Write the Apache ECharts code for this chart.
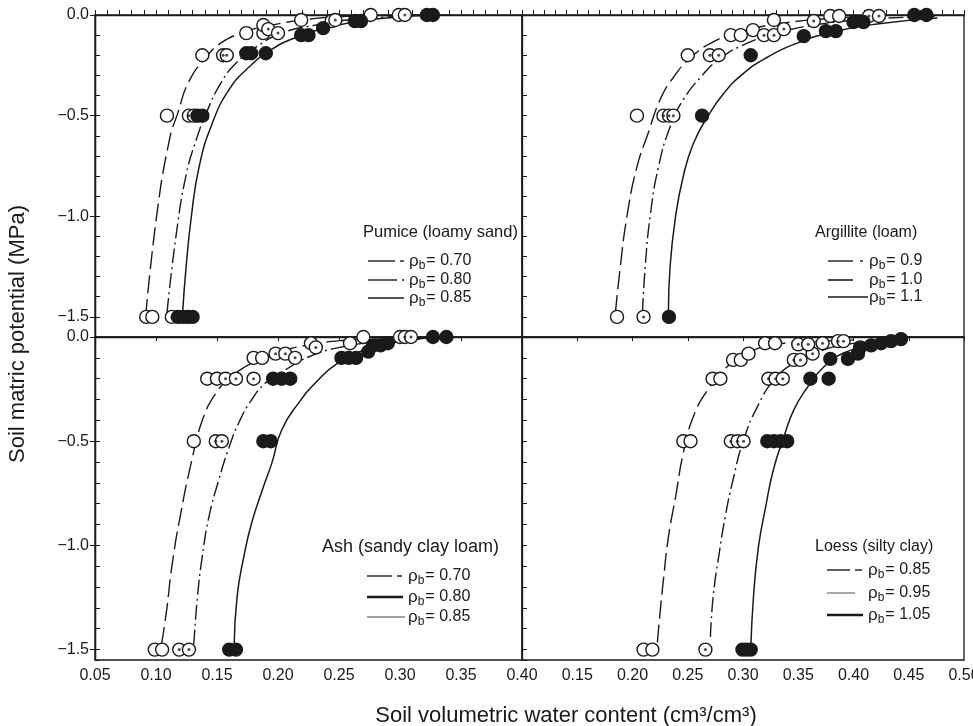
<!DOCTYPE html>
<html>
<head>
<meta charset="utf-8">
<title>Soil water retention</title>
<script src="https://cdn.jsdelivr.net/npm/echarts@6/dist/echarts.min.js"></script>
<style>
    html, body { margin: 0; padding: 0; background: #fff; }
    #container1 { width: 973px; height: 726px; }
</style>
</head>
<body>
<div id="container1"></div>
<script>
// values: [water content cm3/cm3, matric potential MPa]
var panelTitles = ['Pumice (loamy sand)', 'Argillite (loam)', 'Ash (sandy clay loam)', 'Loess (silty clay)'];
var densityLabels = [['0.70', '0.80', '0.85'], ['0.9', '1.0', '1.1'], ['0.70', '0.80', '0.85'], ['0.85', '0.95', '1.05']];

// pumice
var pumiceObs1 = [[0.092,-1.5],[0.097,-1.5],[0.109,-0.5],[0.138,-0.2],[0.174,-0.09],[0.188,-0.09],[0.188,-0.05],[0.219,-0.025],[0.244,-0.03],[0.276,0],[0.299,0]];
var pumiceObs2 = [[0.113,-1.5],[0.127,-0.5],[0.131,-0.5],[0.155,-0.2],[0.158,-0.2],[0.192,-0.07],[0.200,-0.09],[0.247,-0.025],[0.304,0]];
var pumiceObs3 = [[0.118,-1.5],[0.122,-1.5],[0.126,-1.5],[0.130,-1.5],[0.134,-0.5],[0.138,-0.5],[0.174,-0.19],[0.178,-0.19],[0.190,-0.19],[0.219,-0.1],[0.225,-0.1],[0.237,-0.065],[0.263,-0.03],[0.268,-0.03],[0.322,0],[0.327,0]];
var pumiceFit1 = [[0.0915,-1.5],[0.1005,-1.0],[0.111,-0.62],[0.1177,-0.49],[0.127,-0.33],[0.141,-0.21],[0.153,-0.14],[0.170,-0.09],[0.195,-0.05],[0.231,-0.017],[0.271,-0.005],[0.33,0]];
var pumiceFit2 = [[0.109,-1.48],[0.1167,-1.085],[0.125,-0.786],[0.133,-0.62],[0.141,-0.49],[0.153,-0.34],[0.1655,-0.24],[0.182,-0.16],[0.203,-0.09],[0.231,-0.05],[0.271,-0.017],[0.33,0]];
var pumiceFit3 = [[0.1217,-1.49],[0.1247,-1.25],[0.129,-1.0],[0.1355,-0.75],[0.146,-0.54],[0.160,-0.37],[0.176,-0.26],[0.195,-0.17],[0.217,-0.107],[0.244,-0.058],[0.284,-0.017],[0.34,0]];

// argillite
var argilliteObs1 = [[0.186,-1.5],[0.204,-0.5],[0.250,-0.2],[0.289,-0.1],[0.298,-0.1],[0.309,-0.075],[0.328,-0.025],[0.379,-0.005],[0.387,-0.005]];
var argilliteObs2 = [[0.210,-1.5],[0.228,-0.5],[0.233,-0.5],[0.237,-0.5],[0.270,-0.2],[0.278,-0.2],[0.319,-0.1],[0.328,-0.1],[0.337,-0.07],[0.364,-0.03],[0.414,-0.005],[0.423,-0.005]];
var argilliteObs3 = [[0.233,-1.5],[0.263,-0.5],[0.307,-0.2],[0.355,-0.105],[0.375,-0.08],[0.384,-0.08],[0.400,-0.035],[0.409,-0.035],[0.455,0],[0.466,0]];
var argilliteFit1 = [[0.1845,-1.48],[0.189,-1.25],[0.195,-1.0],[0.204,-0.755],[0.214,-0.59],[0.225,-0.42],[0.237,-0.31],[0.252,-0.215],[0.273,-0.133],[0.298,-0.083],[0.334,-0.042],[0.386,-0.015],[0.431,-0.005]];
var argilliteFit2 = [[0.209,-1.48],[0.2115,-1.25],[0.216,-1.0],[0.2235,-0.755],[0.234,-0.556],[0.246,-0.42],[0.2615,-0.31],[0.2795,-0.215],[0.304,-0.14],[0.331,-0.09],[0.364,-0.05],[0.4155,-0.02],[0.476,-0.008]];
var argilliteFit3 = [[0.2325,-1.48],[0.234,-1.25],[0.239,-1.0],[0.246,-0.80],[0.255,-0.64],[0.268,-0.505],[0.2825,-0.39],[0.3005,-0.29],[0.322,-0.21],[0.349,-0.14],[0.382,-0.083],[0.425,-0.042],[0.476,-0.015]];

// ash
var ashObs1 = [[0.099,-1.5],[0.105,-1.5],[0.131,-0.5],[0.142,-0.2],[0.150,-0.2],[0.180,-0.1],[0.187,-0.1],[0.227,-0.03],[0.259,-0.03],[0.270,0],[0.300,0]];
var ashObs2 = [[0.119,-1.5],[0.127,-1.5],[0.149,-0.5],[0.154,-0.5],[0.157,-0.2],[0.1655,-0.2],[0.180,-0.2],[0.198,-0.08],[0.206,-0.08],[0.214,-0.1],[0.231,-0.05],[0.304,0],[0.309,0]];
var ashObs3 = [[0.160,-1.5],[0.1655,-1.5],[0.188,-0.5],[0.194,-0.5],[0.196,-0.2],[0.203,-0.2],[0.210,-0.2],[0.252,-0.1],[0.258,-0.1],[0.264,-0.1],[0.274,-0.07],[0.278,-0.04],[0.284,-0.04],[0.290,-0.03],[0.327,0],[0.338,0]];
var ashFit1 = [[0.1045,-1.476],[0.1085,-1.32],[0.1135,-1.08],[0.1205,-0.84],[0.129,-0.60],[0.138,-0.40],[0.149,-0.27],[0.162,-0.19],[0.1785,-0.125],[0.198,-0.077],[0.225,-0.038],[0.2575,-0.014],[0.298,0]];
var ashFit2 = [[0.131,-1.476],[0.134,-1.245],[0.138,-1.05],[0.1435,-0.86],[0.1515,-0.685],[0.160,-0.527],[0.168,-0.41],[0.1785,-0.30],[0.190,-0.22],[0.206,-0.158],[0.225,-0.096],[0.252,-0.048],[0.284,-0.024],[0.325,-0.005]];
var ashFit3 = [[0.164,-1.485],[0.1665,-1.245],[0.172,-1.054],[0.1785,-0.89],[0.188,-0.72],[0.195,-0.604],[0.203,-0.446],[0.217,-0.316],[0.233,-0.206],[0.249,-0.125],[0.271,-0.062],[0.298,-0.024],[0.330,0]];

// loess
var loessObs1 = [[0.210,-1.5],[0.218,-1.5],[0.246,-0.5],[0.2525,-0.5],[0.2725,-0.2],[0.2795,-0.2],[0.291,-0.11],[0.298,-0.11],[0.305,-0.08],[0.320,-0.03],[0.329,-0.03]];
var loessObs2 = [[0.266,-1.5],[0.289,-0.5],[0.295,-0.5],[0.3005,-0.5],[0.323,-0.2],[0.3295,-0.2],[0.336,-0.2],[0.346,-0.11],[0.352,-0.11],[0.363,-0.08],[0.350,-0.035],[0.359,-0.035],[0.372,-0.03],[0.386,-0.02],[0.391,-0.02]];
var loessObs3 = [[0.2995,-1.5],[0.303,-1.5],[0.307,-1.5],[0.322,-0.5],[0.328,-0.5],[0.334,-0.5],[0.340,-0.5],[0.361,-0.2],[0.3775,-0.2],[0.379,-0.105],[0.395,-0.105],[0.404,-0.08],[0.406,-0.05],[0.416,-0.04],[0.425,-0.03],[0.434,-0.02],[0.443,-0.01]];
var loessFit1 = [[0.2225,-1.466],[0.225,-1.32],[0.228,-1.165],[0.2325,-0.96],[0.239,-0.767],[0.246,-0.556],[0.255,-0.383],[0.268,-0.254],[0.2825,-0.158],[0.304,-0.077],[0.328,-0.038],[0.355,-0.024],[0.400,-0.014]];
var loessFit2 = [[0.2705,-1.44],[0.273,-1.245],[0.278,-1.054],[0.284,-0.86],[0.291,-0.685],[0.3005,-0.494],[0.313,-0.335],[0.328,-0.206],[0.346,-0.125],[0.3675,-0.072],[0.391,-0.038],[0.431,-0.014]];
var loessFit3 = [[0.307,-1.5],[0.3095,-1.245],[0.314,-1.006],[0.3205,-0.815],[0.3275,-0.637],[0.337,-0.479],[0.346,-0.35],[0.3585,-0.24],[0.373,-0.144],[0.391,-0.077],[0.4155,-0.038],[0.4455,-0.014]];

var observed = [
    [pumiceObs1, pumiceObs2, pumiceObs3],
    [argilliteObs1, argilliteObs2, argilliteObs3],
    [ashObs1, ashObs2, ashObs3],
    [loessObs1, loessObs2, loessObs3]
];
var fitted = [
    [pumiceFit1, pumiceFit2, pumiceFit3],
    [argilliteFit1, argilliteFit2, argilliteFit3],
    [ashFit1, ashFit2, ashFit3],
    [loessFit1, loessFit2, loessFit3]
];

var INK = '#1a1a1a';
var FONT = '"Liberation Sans", Arial, Helvetica, sans-serif';

var chart = () => {
    // potential is plotted as suction on an inverted axis, so 0 sits on top
    var toPlot = pts => pts.map(p => [p[0], -p[1]]);
    var fitLine = [
        { type: [18, 6], width: 1.4 },
        { type: [15, 4, 2, 4], width: 1.4 },
        { type: 'solid', width: 1.5 }
    ];

    var buildSeries = () => {
        var out = [];
        for (var g = 0; g < 4; g++) {
            for (var k = 0; k < 3; k++) {
                out.push({
                    type: 'line', xAxisIndex: g, yAxisIndex: g,
                    data: toPlot(fitted[g][k]),
                    smooth: 0.5, showSymbol: false, symbol: 'none',
                    lineStyle: { color: INK, width: fitLine[k].width, type: fitLine[k].type },
                    z: 2, silent: true
                });
                out.push({
                    type: 'scatter', xAxisIndex: g, yAxisIndex: g,
                    data: toPlot(observed[g][k]),
                    symbol: 'circle', symbolSize: 13,
                    itemStyle: { color: k == 2 ? INK : '#fff', borderColor: INK, borderWidth: 1.4, opacity: 1 },
                    z: 3, silent: true
                });
                if (k == 1) {
                    // the centre dot of the middle density
                    out.push({
                        type: 'scatter', xAxisIndex: g, yAxisIndex: g,
                        data: toPlot(observed[g][k]),
                        symbol: 'circle', symbolSize: 3,
                        itemStyle: { color: INK },
                        z: 4, silent: true
                    });
                }
            }
        }
        return out;
    };

    var grids = [
        { left: 95, top: 15, width: 427, height: 322 },
        { left: 522, top: 15, width: 442, height: 322 },
        { left: 95, top: 337, width: 427, height: 323 },
        { left: 522, top: 337, width: 442, height: 323 }
    ].map(g => Object.assign(g, { show: true, borderColor: INK, borderWidth: 1.3, containLabel: false, outerBoundsMode: 'none' }));

    var axisLine = { show: true, lineStyle: { color: INK, width: 1.3 } };
    var tickLabel = { fontFamily: FONT, fontSize: 16, color: INK };

    var xAxes = [
        { gridIndex: 0, min: 0.05, max: 0.40, interval: 0.01 },
        { gridIndex: 1, min: 0.10, max: 0.50, interval: 0.01 },
        { gridIndex: 2, min: 0.05, max: 0.40, interval: 0.05 },
        { gridIndex: 3, min: 0.10, max: 0.50, interval: 0.05 }
    ].map((a, i) => Object.assign(a, {
        type: 'value', position: 'bottom', splitLine: { show: false }, axisLine: axisLine,
        axisTick: i < 2 ? { show: true, inside: true, length: 5, lineStyle: { color: INK } }
                        : { show: true, inside: false, length: 4, lineStyle: { color: INK } },
        axisLabel: i < 2 ? { show: false } : Object.assign({
            show: true, margin: 8, showMinLabel: i == 2, showMaxLabel: true, hideOverlap: false,
            formatter: v => v.toFixed(2)
        }, tickLabel)
    }));

    var yLabel = v => v === 0 ? '0.0' : '\u2212' + v.toFixed(1);
    var yAxes = [
        { gridIndex: 0, max: 1.6, interval: 0.5, labels: true },
        { gridIndex: 1, max: 1.6, interval: 0.1, labels: false },
        { gridIndex: 2, max: 1.55, interval: 0.5, labels: true },
        { gridIndex: 3, max: 1.55, interval: 0.1, labels: false },
        { gridIndex: 0, max: 1.6, interval: 0.1, labels: false },
        { gridIndex: 2, max: 1.55, interval: 0.1, labels: false }
    ].map(a => ({
        type: 'value', gridIndex: a.gridIndex, position: 'left', offset: 0,
        inverse: true, min: 0, max: a.max, interval: a.interval,
        splitLine: { show: false }, axisLine: axisLine,
        axisTick: a.labels ? { show: true, inside: false, length: 5, lineStyle: { color: INK } }
                           : { show: true, inside: true, length: 5, lineStyle: { color: INK } },
        axisLabel: a.labels ? Object.assign({ show: true, margin: 6, showMaxLabel: false, formatter: yLabel }, tickLabel)
                            : { show: false }
    }));

    // legend blocks drawn inside each panel
    var legendLayout = [
        { tx: 363, ty: 232, fs: 16.5, px: 409, rows: [261, 280, 298],
          samples: [[[368, 395], [400, 404]], [[368, 397], [402, 404]], [[368, 404]]], widths: [1.4, 1.4, 1.5], colors: [INK, INK, INK] },
        { tx: 815, ty: 233, fs: 16, px: 869, rows: [261, 280, 297],
          samples: [[[828, 853], [860, 863]], [[828, 853]], [[828, 868]]], widths: [1.4, 1.6, 1.3], colors: [INK, INK, INK] },
        { tx: 322, ty: 547, fs: 18, px: 408, rows: [576, 597, 617],
          samples: [[[367, 392], [397, 402]], [[367, 403]], [[367, 405]]], widths: [1.4, 2.6, 1.2], colors: [INK, INK, '#444'] },
        { tx: 815, ty: 547, fs: 16, px: 868, rows: [570, 593, 615],
          samples: [[[827, 850], [855, 862]], [[827, 855]], [[827, 863]]], widths: [1.4, 1.0, 2.6], colors: [INK, '#555', INK] }
    ];

    var buildGraphic = () => {
        var els = [];
        els.push({
            type: 'text', x: 566, y: 716,
            style: { text: 'Soil volumetric water content (cm\u00b3/cm\u00b3)', fontFamily: FONT, fontSize: 22, fill: INK, align: 'center', verticalAlign: 'middle' }
        });
        els.push({
            type: 'text', x: 18, y: 334, rotation: Math.PI / 2,
            style: { text: 'Soil matric potential (MPa)', fontFamily: FONT, fontSize: 22, fill: INK, align: 'center', verticalAlign: 'middle' }
        });
        legendLayout.forEach((L, p) => {
            els.push({
                type: 'text', x: L.tx, y: L.ty,
                style: { text: panelTitles[p], fontFamily: FONT, fontSize: L.fs, fill: INK, align: 'left', verticalAlign: 'middle' }
            });
            L.rows.forEach((ry, k) => {
                L.samples[k].forEach(s => {
                    els.push({
                        type: 'line', shape: { x1: s[0], y1: ry, x2: s[1], y2: ry },
                        style: { stroke: L.colors[k], lineWidth: L.widths[k] }
                    });
                });
                els.push({
                    type: 'text', x: L.px, y: ry,
                    style: {
                        text: '{r|\u03c1}{s|b}{t|= ' + densityLabels[p][k] + '}',
                        align: 'left', verticalAlign: 'middle', fill: INK,
                        rich: {
                            r: { fontFamily: FONT, fontSize: 17, fill: INK, lineHeight: 20 },
                            s: { fontFamily: FONT, fontSize: 12, fill: INK, lineHeight: 20, padding: [9, 1, 0, 0] },
                            t: { fontFamily: FONT, fontSize: 16, fill: INK, lineHeight: 20 }
                        }
                    }
                });
            });
        });
        return els;
    };

    var p1 = () => {
        var dom = document.getElementById('container1');
        var myChart = echarts.init(dom, null, { renderer: 'canvas' });
        var option = {
            backgroundColor: '#fff',
            animation: false,
            grid: grids,
            xAxis: xAxes,
            yAxis: yAxes,
            series: buildSeries(),
            graphic: buildGraphic()
        };
        myChart.setOption(option);
        window.addEventListener('resize', myChart.resize);
    };
    return {
        inicOnce: () => {
            p1();
        },
    }
}

chart().inicOnce();
</script>
</body>
</html>
